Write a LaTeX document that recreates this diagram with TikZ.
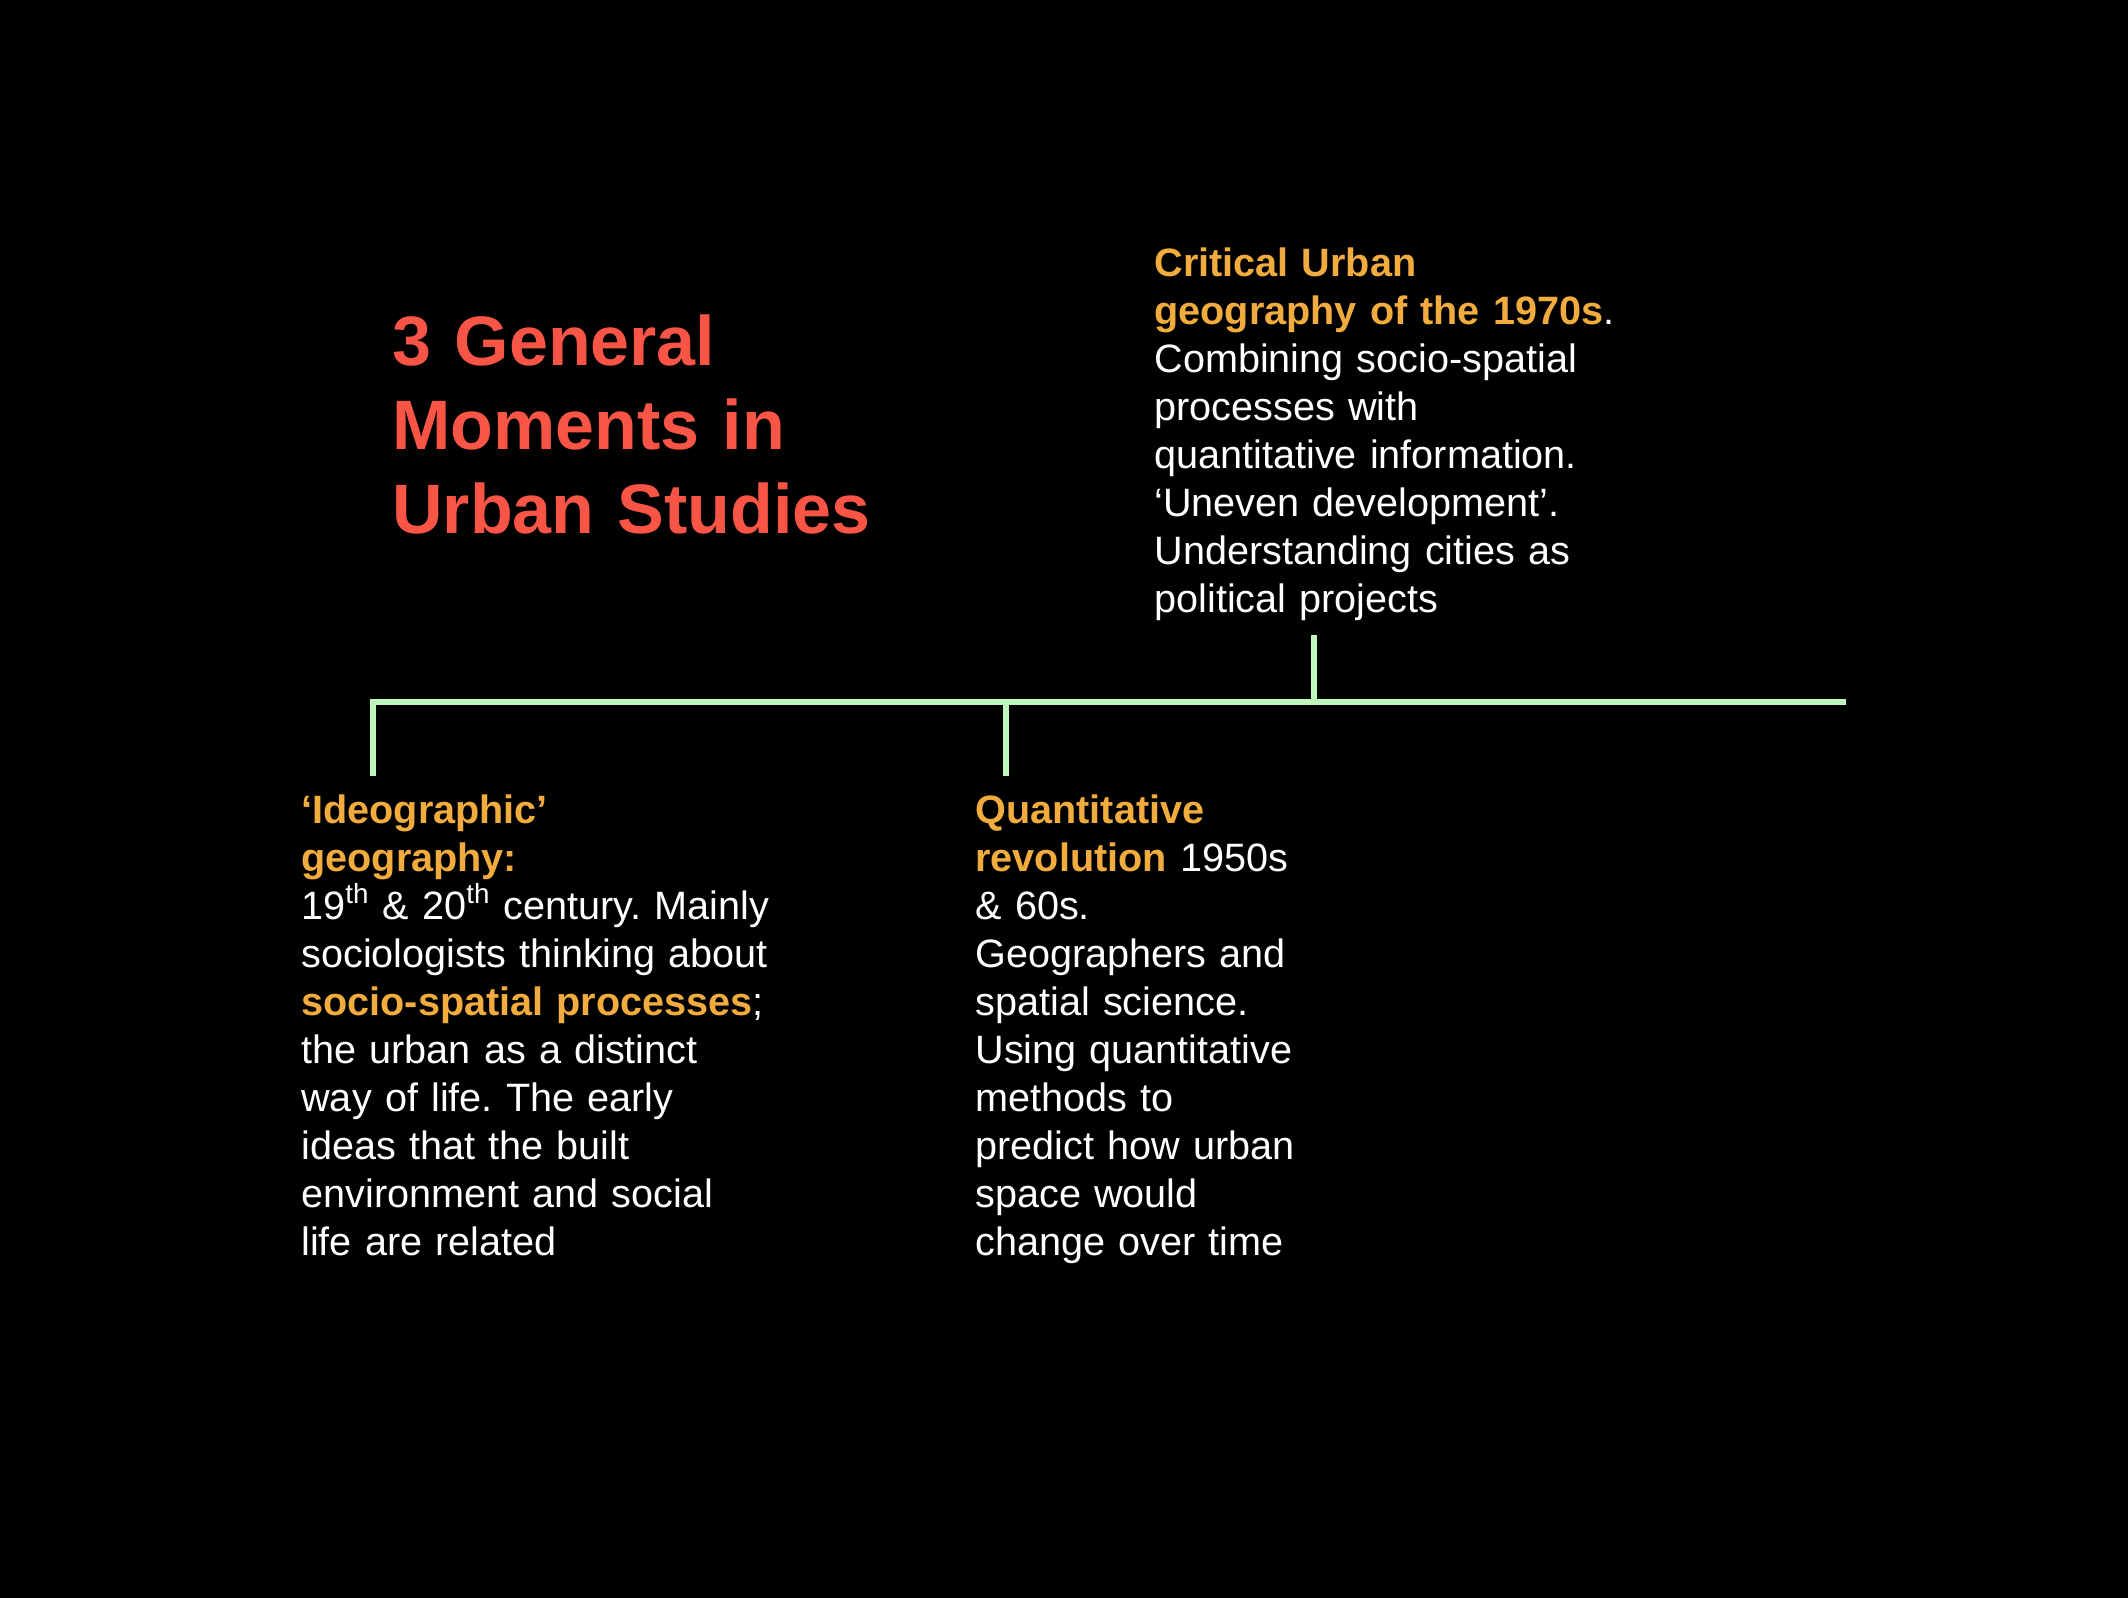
\documentclass[tikz,border=0pt]{standalone}
\usepackage{fontspec}
\setmainfont{Liberation Sans}
\definecolor{titlered}{HTML}{F95546}
\definecolor{headorange}{HTML}{F2AC3E}
\definecolor{linegreen}{HTML}{BFF5BD}
\begin{document}
\frenchspacing
\begin{tikzpicture}[x=0.5pt,y=-0.5pt,
  bodytext/.style={anchor=base west,inner sep=0pt,text width=600pt,align=left,
    text=white,font=\fontsize{19.8}{24}\selectfont},
  titletext/.style={anchor=base west,inner sep=0pt,text width=600pt,align=left,
    text=titlered,font=\fontsize{35}{42}\selectfont\bfseries},
  timeline/.style={draw=linegreen,line width=3pt}]
\newcommand{\hl}[1]{\textcolor{headorange}{\bfseries #1}}
% page
\fill[black] (0,0) rectangle (2128,1598);
\useasboundingbox (0,0) rectangle (2128,1598);

% title
\node[titletext] (title) at (392,366) {3 General\\Moments in\\Urban Studies};

% the three moments
\node[bodytext] (critical) at (1154,277) {\hl{Critical Urban}\\
\hl{geography of the 1970s}.\\
Combining socio-spatial\\
processes with\\
quantitative information.\\
‘Uneven development’.\\
Understanding cities as\\
political projects};

\node[bodytext] (ideo) at (301,823) {\hl{‘Ideographic’}\\
\hl{geography:}\\
19\textsuperscript{th} \& 20\textsuperscript{th} century. Mainly\\
sociologists thinking about\\
\hl{socio-spatial processes};\\
the urban as a distinct\\
way of life. The early\\
ideas that the built\\
environment and social\\
life are related};

\node[bodytext] (quant) at (975,823) {\hl{Quantitative}\\
\hl{revolution} 1950s\\
\& 60s.\\
Geographers and\\
spatial science.\\
Using quantitative\\
methods to\\
predict how urban\\
space would\\
change over time};

% timeline and its ticks
\coordinate (tstart) at (373,702);
\coordinate (tend) at (1846,702);
\coordinate (tick1) at (373,776);
\coordinate (tick2top) at (1006,702);
\coordinate (tick2) at (1006,776);
\coordinate (tick3top) at (1314,635);
\coordinate (tick3) at (1314,702);
\draw[timeline] (tick1) -- (tstart) -- (tend);
\draw[timeline] (tick2top) -- (tick2);
\draw[timeline] (tick3top) -- (tick3);
\end{tikzpicture}
\end{document}
